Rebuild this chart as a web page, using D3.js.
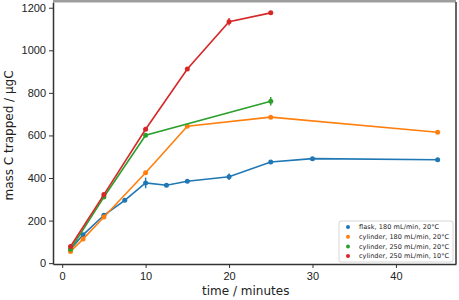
<!DOCTYPE html>
<html>
<head>
<meta charset="utf-8">
<script src="https://cdn.jsdelivr.net/npm/d3@7"></script>
<style>
  body { margin: 0; background: #fff; }
  svg { font-family: "DejaVu Sans", sans-serif; }
  .axis text { font-size: 11px; fill: #222; }
  .axis path, .axis line { stroke: #333; }
</style>
</head>
<body>
<svg id="chart" width="459" height="300"></svg>
<script>
// series values: [time, mass, error]
const flask180 = [[1, 65, 0], [2.5, 133, 0], [5, 225, 0], [7.5, 295, 0], [10, 377, 25], [12.5, 366, 0],
  [15, 385, 0], [20, 406, 15], [25, 475, 0], [30, 491, 0], [45, 486, 0]];
const cyl180 = [[1, 55, 0], [2.5, 113, 0], [5, 217, 0], [10, 425, 0], [15, 643, 0], [25, 686, 0], [45, 615, 0]];
const cyl250 = [[1, 65, 0], [5, 311, 0], [10, 601, 0], [25, 761, 20]];
const cyl250cold = [[1, 78, 0], [5, 322, 0], [10, 629, 0], [15, 912, 0], [20, 1134, 18], [25, 1176, 0]];

const seriesNames = ["flask, 180 mL/min, 20°C", "cylinder, 180 mL/min, 20°C",
  "cylinder, 250 mL/min, 20°C", "cylinder, 250 mL/min, 10°C"];
const colors = ["#1f77b4", "#ff7f0e", "#2ca02c", "#d62728"];
const xTicks = [0, 10, 20, 30, 40];
const yTicks = [0, 200, 400, 600, 800, 1000, 1200];

const allSeries = [flask180, cyl180, cyl250, cyl250cold];

const svg = d3.select("#chart");
const plotLeft = 53, plotRight = 456, plotTop = 2, plotBottom = 264;

const x = d3.scaleLinear().domain([-1.1, 47.2]).range([plotLeft, plotRight]);
const y = d3.scaleLinear().domain([-4, 1227]).range([plotBottom, plotTop]);

// axes
svg.append("g")
  .attr("class", "axis")
  .attr("transform", "translate(0," + plotBottom + ")")
  .call(d3.axisBottom(x).tickValues(xTicks).tickFormat(d3.format("d")).tickSize(4).tickPadding(4).tickSizeOuter(0));

svg.append("g")
  .attr("class", "axis")
  .attr("transform", "translate(" + plotLeft + ",0)")
  .call(d3.axisLeft(y).tickValues(yTicks).tickFormat(d3.format("d")).tickSize(4).tickPadding(3).tickSizeOuter(0));

// frame
svg.append("line").attr("x1", plotLeft).attr("x2", plotRight).attr("y1", 1).attr("y2", 1)
  .style("stroke", "#9e9e9e").style("stroke-width", 3);
svg.append("line").attr("x1", plotRight).attr("x2", plotRight).attr("y1", plotTop).attr("y2", plotBottom)
  .style("stroke", "#333").style("stroke-width", 1.5);
svg.selectAll(".axis .domain").style("stroke-width", 1.5);

const line = d3.line().x(d => x(d[0])).y(d => y(d[1]));

allSeries.forEach((data, i) => {
  const g = svg.append("g");
  g.append("path")
    .datum(data)
    .attr("d", line)
    .style("fill", "none")
    .style("stroke", colors[i])
    .style("stroke-width", 1.6);

  g.selectAll("line.err")
    .data(data.filter(d => d[2] > 0))
    .enter()
    .append("line")
    .attr("x1", d => x(d[0])).attr("x2", d => x(d[0]))
    .attr("y1", d => y(d[1] - d[2])).attr("y2", d => y(d[1] + d[2]))
    .style("stroke", colors[i])
    .style("stroke-width", 1.4);

  g.selectAll("circle")
    .data(data)
    .enter()
    .append("circle")
    .attr("r", 2.5)
    .attr("cx", d => x(d[0]))
    .attr("cy", d => y(d[1]))
    .style("fill", colors[i]);
});

// axis titles
svg.append("text")
  .attr("transform", "translate(" + (x(22)) + ",295)")
  .style("text-anchor", "middle")
  .style("font-size", "12px")
  .style("fill", "#222")
  .text("time / minutes");

svg.append("text")
  .attr("transform", "translate(13," + y(600) + ") rotate(-90)")
  .style("text-anchor", "middle")
  .style("font-size", "12px")
  .style("fill", "#222")
  .text("mass C trapped / μgC");

// legend
const legend = svg.append("g").attr("transform", "translate(339,221)");
legend.append("rect")
  .attr("width", 114).attr("height", 41).attr("rx", 2)
  .style("fill", "#fff").style("stroke", "#ccc").style("stroke-width", 0.8);

seriesNames.forEach((name, i) => {
  legend.append("circle")
    .attr("cx", 9).attr("cy", 6 + i * 9.7).attr("r", 2)
    .style("fill", colors[i]);
  legend.append("text")
    .attr("x", 20).attr("y", 8.3 + i * 9.7)
    .style("font-size", "6.5px")
    .style("fill", "#222")
    .attr("textLength", name.length > 24 ? 90 : 80)
    .text(name);
});
</script>
</body>
</html>
